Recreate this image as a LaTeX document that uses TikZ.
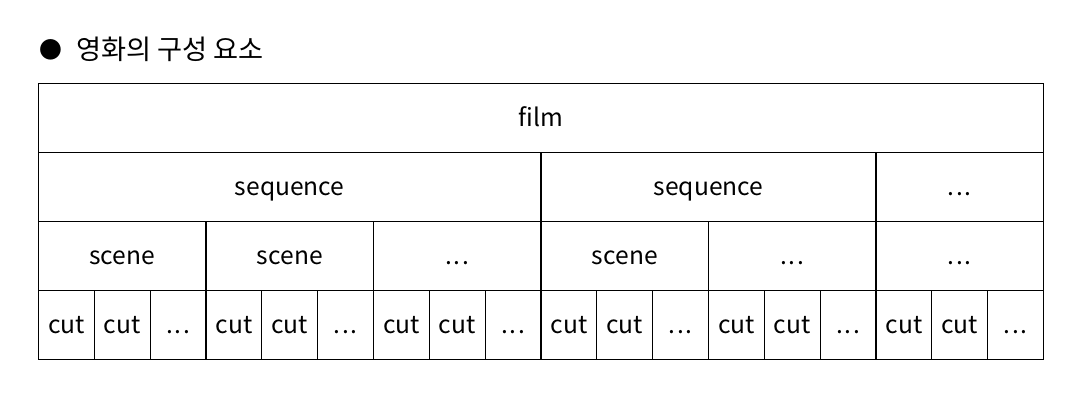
\documentclass[tikz,border=0pt]{standalone}
\usepackage{fontspec}
\setmainfont{Noto Sans CJK KR}
\newcommand\tdots{\makebox[4.8pt]{.}\makebox[4.8pt]{.}\makebox[4.8pt]{.}}
\begin{document}
\begin{tikzpicture}[x=0.02cm,y=-0.02cm,
    cell/.style={draw, line width=0.6pt, rectangle, inner sep=0pt, anchor=north west,
      minimum height=1.375cm, text height=1.9ex, text depth=0pt,
      font=\fontsize{14}{16}\selectfont}]

    \useasboundingbox (0,0) rectangle (1082,402);

    % title
    \node[anchor=west, inner sep=0pt, font=\fontsize{13}{15}\selectfont] (bullet) at (39,50) {●};
    \node[anchor=west, inner sep=0pt, font=\fontsize{15.5}{18}\selectfont] (title) at (76,49) {영화의 구성 요소};

    % film row
    \node[cell, minimum width=20.1cm] (film) at (38,83) {film};

    % sequence row
    \node[cell, minimum width=9*1.11667cm] (seq1) at (38,152) {sequence};
    \node[cell, minimum width=6*1.11667cm] (seq2) at (540.5,152) {sequence};
    \node[cell, minimum width=3*1.11667cm] (seq3) at (875.5,152) {\tdots};

    % scene row
    \foreach \i/\t in {0/scene, 1/scene, 2/\tdots, 3/scene, 4/\tdots, 5/\tdots} {
        \node[cell, minimum width=3*1.11667cm] (scene\i) at (38+\i*167.5,221) {\t};
    }

    % cut row
    \foreach \i in {0,...,5} {
        \node[cell, minimum width=1.11667cm] (cut\i a) at (38+\i*167.5,290) {cut};
        \node[cell, minimum width=1.11667cm] (cut\i b) at (38+\i*167.5+55.833,290) {cut};
        \node[cell, minimum width=1.11667cm] (cut\i c) at (38+\i*167.5+111.667,290) {\tdots};
    }
\end{tikzpicture}
\end{document}
